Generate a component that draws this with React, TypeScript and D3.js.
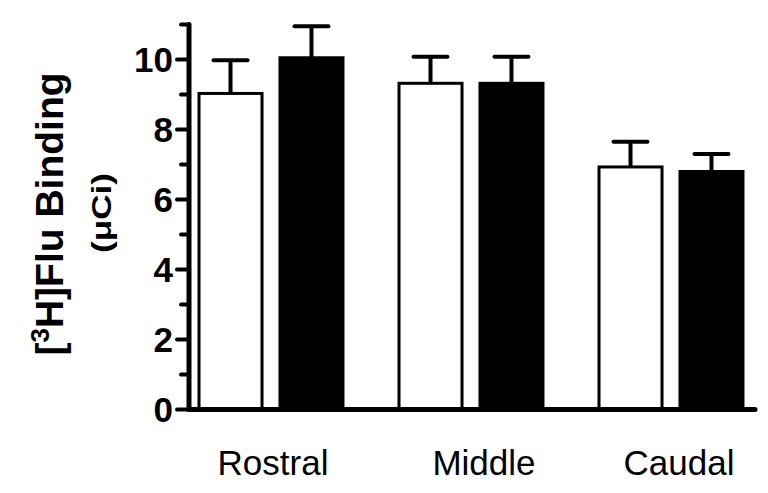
import React from "react";
import * as d3 from "d3";

const categories = ["Rostral", "Middle", "Caudal"];
const seriesNames = ["Control", "Treated"];
const controlMeans = [9.03, 9.32, 6.93];
const controlErr = [0.95, 0.76, 0.72];
const treatedMeans = [10.05, 9.32, 6.8];
const treatedErr = [0.9, 0.76, 0.5];
const yTicks = [0, 2, 4, 6, 8, 10];
const yMinorTicks = [1, 3, 5, 7, 9, 11];
const fills = ["#ffffff", "#000000"];
const labelShift = [2, 13, 8];

export default function App() {
  const W = 768, H = 493;
  const axisX = 189;
  const y = d3.scaleLinear().domain([0, 11]).range([409.5, 24.5]);
  const x = d3.scaleBand().domain(categories).range([171, 771]).paddingInner(0).paddingOuter(0);
  const inner = d3.scaleBand().domain(seriesNames).range([0, x.bandwidth()]).paddingInner(0.222).paddingOuter(0.346);
  const series = [
    { name: seriesNames[0], means: controlMeans, errs: controlErr, fill: fills[0] },
    { name: seriesNames[1], means: treatedMeans, errs: treatedErr, fill: fills[1] },
  ];
  const bw = inner.bandwidth();
  const capW = 34;
  return (
    <svg width={W} height={H} style={{ position: "absolute", left: 0, top: 0 }} fontFamily="'Liberation Sans', Arial, sans-serif">
      <rect width={W} height={H} fill="#fff" />
      {series.map((s) =>
        categories.map((c, i) => {
          const x0 = (x(c) as number) + (inner(s.name) as number);
          const yTop = y(s.means[i]);
          const yErr = y(s.means[i] + s.errs[i]);
          const cx = x0 + bw / 2;
          return (
            <g key={s.name + c}>
              <line x1={cx} x2={cx} y1={yTop} y2={yErr} stroke="#000" strokeWidth={4} />
              <line x1={cx - capW / 2} x2={cx + capW / 2} y1={yErr} y2={yErr} stroke="#000" strokeWidth={4} strokeLinecap="round" />
              <rect x={x0} y={yTop} width={bw} height={y(0) - yTop} fill={s.fill} stroke="#000" strokeWidth={3} />
            </g>
          );
        })
      )}
      {/* axes */}
      <line x1={axisX} x2={axisX} y1={y(11)} y2={y(0)} stroke="#000" strokeWidth={5} strokeLinecap="round" />
      <line x1={axisX} x2={755} y1={y(0)} y2={y(0)} stroke="#000" strokeWidth={5} strokeLinecap="round" />
      {yTicks.map((t) => (
        <g key={t}>
          <line x1={axisX - 12} x2={axisX} y1={y(t)} y2={y(t)} stroke="#000" strokeWidth={4} strokeLinecap="round" />
          <text x={axisX - 16} y={y(t)} dy="0.36em" textAnchor="end" fontSize={35} fontWeight="bold">{t}</text>
        </g>
      ))}
      {yMinorTicks.map((t) => (
        <line key={t} x1={axisX - 8} x2={axisX} y1={y(t)} y2={y(t)} stroke="#000" strokeWidth={4} strokeLinecap="round" />
      ))}
      {categories.map((c, i) => (
        <text key={c} x={(x(c) as number) + x.bandwidth() / 2 + labelShift[i]} y={475} textAnchor="middle" fontSize={35}>{c}</text>
      ))}
      <text transform="translate(63,214) rotate(-90)" textAnchor="middle" fontSize={39} fontWeight="bold">
        [<tspan dy={-14} fontSize={26}>3</tspan><tspan dy={14}>H]Flu Binding</tspan>
      </text>
      <text transform="translate(111,213) rotate(-90)" textAnchor="middle" fontSize={27} fontWeight="bold" textLength={80} lengthAdjust="spacingAndGlyphs">(μCi)</text>
    </svg>
  );
}
